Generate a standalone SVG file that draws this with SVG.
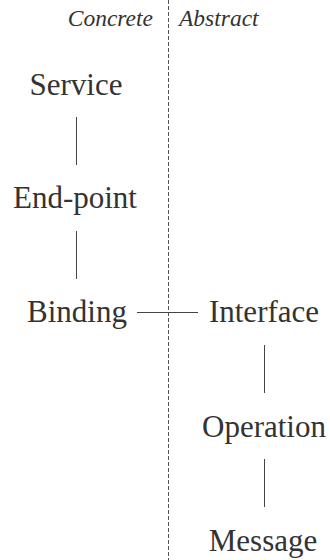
<svg xmlns="http://www.w3.org/2000/svg" width="330" height="560" viewBox="0 0 330 560">
<style>
.lbl{font-family:"Liberation Serif","Times New Roman",serif;font-size:31px;fill:#333;text-anchor:middle}
.hdr{font-family:"Liberation Serif","Times New Roman",serif;font-size:23.5px;font-style:italic;fill:#333}
.c{stroke:#444;stroke-width:1;fill:none}
.div{stroke:#555;stroke-width:1;stroke-dasharray:4,2;fill:none}
</style>
<rect width="330" height="560" fill="#fff"/>
<line class="div" x1="168.5" y1="0" x2="168.5" y2="560"/>
<text class="hdr" x="153" y="26" text-anchor="end">Concrete</text>
<text class="hdr" x="179" y="26">Abstract</text>
<g id="connectors">
<line class="c" x1="76.5" y1="117" x2="76.5" y2="165"/>
<line class="c" x1="76.5" y1="231" x2="76.5" y2="279"/>
<line class="c" x1="137" y1="312.5" x2="198" y2="312.5"/>
<line class="c" x1="264.5" y1="345" x2="264.5" y2="393"/>
<line class="c" x1="264.5" y1="459" x2="264.5" y2="507"/>
</g>
<g id="service"><text class="lbl" x="76" y="95">Service</text></g>
<g id="endpoint"><text class="lbl" x="75" y="208">End-point</text></g>
<g id="binding"><text class="lbl" x="77" y="322">Binding</text></g>
<g id="interface"><text class="lbl" x="264" y="322">Interface</text></g>
<g id="operation"><text class="lbl" x="264" y="437">Operation</text></g>
<g id="message"><text class="lbl" x="263" y="551">Message</text></g>
</svg>
